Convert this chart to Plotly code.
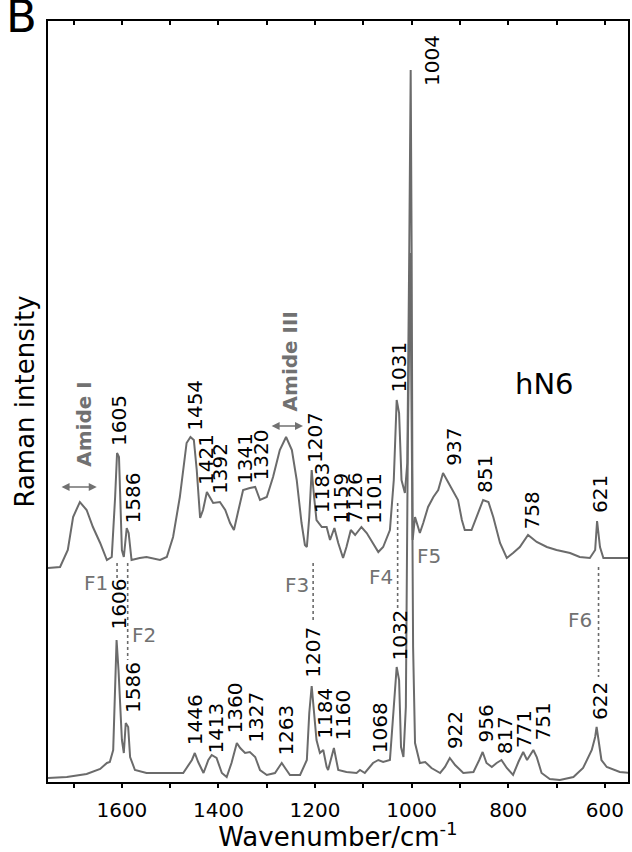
import plotly.graph_objects as go

# ---------------- data ----------------
# wavenumber (cm-1) and intensity (arbitrary units) of the upper spectrum (hN6)
wn_top = [1753,1728,1712,1701,1687,1673,1660,1645,1631,1621,
          1614,1610,1606,1600,1596,1590,1586,1580,1563,1549,
          1521,1507,1494,1480,1466,1458,1451,1445,1438,1432,
          1424,1418,1411,1397,1386,1376,1368,1360,1349,1335,
          1324,1314,1300,1287,1273,1260,1248,1238,1228,1221,
          1217,1212,1207,1202,1197,1186,1176,1169,1160,1152,
          1142,1135,1126,1117,1104,1093,1080,1069,1059,1045,
          1037,1031,1026,1021,1014,1009,1005,1002,1000,998,
          993,983,976,966,955,945,935,927,914,904,
          896,890,876,865,852,841,831,817,803,790,
          776,759,741,720,700,672,652,631,620,616,
          610,603,583,552]
int_top = [214,215,232,265,280,272,255,239,222,225,
           285,329,325,232,225,254,249,222,224,225,
           222,225,245,285,339,345,342,312,264,272,
           290,285,279,280,272,259,252,269,292,294,
           295,282,285,305,332,345,332,302,259,237,
           235,265,312,285,262,255,255,242,254,239,
           224,235,252,247,255,249,239,230,235,252,
           302,382,369,302,289,319,529,712,529,242,
           265,249,259,275,285,292,309,302,292,282,
           262,252,252,265,282,280,265,239,224,229,
           235,247,240,235,232,229,225,224,232,261,
           235,224,224,224]

# lower spectrum
wn_bot = [1753,1714,1673,1645,1631,1625,1618,1614,1611,1607,
          1604,1600,1596,1592,1587,1583,1573,1549,1507,1473,
          1455,1449,1442,1431,1421,1414,1404,1393,1383,1373,
          1362,1355,1345,1335,1324,1314,1300,1283,1276,1269,
          1262,1252,1231,1217,1212,1207,1202,1197,1190,1183,
          1176,1173,1161,1152,1135,1114,1107,1097,1080,1069,
          1059,1045,1037,1031,1026,1022,1017,1012,1008,1003,
          999,997,993,983,972,959,941,931,921,910,
          893,872,860,853,845,834,824,814,803,790,
          779,769,761,748,741,731,714,693,665,645,
          627,620,617,612,607,596,569,548]
int_bot = [4,5,8,13,19,20,32,92,142,112,
           79,42,29,59,55,25,12,9,9,9,
           22,29,20,9,22,27,24,9,5,19,
           39,34,29,30,25,12,7,9,14,19,
           14,7,7,22,69,96,69,42,29,32,
           15,12,34,12,10,9,12,9,19,22,
           20,22,75,115,102,35,25,75,332,529,
           300,135,39,19,20,14,9,15,24,17,
           9,10,22,30,19,15,19,22,14,7,
           20,30,22,32,25,9,3,2,5,14,
           32,45,55,39,22,15,10,9]

# peak labels (text, label-centre wavenumber, label-centre intensity)
top_labels = ["1605","1586","1454","1421","1392","1341","1320","1207","1183","1159",
              "7126","1101","1031","1004","937","851","758","621"]
top_label_wn = [1606,1578,1449,1426,1397,1345,1311,1200,1185,1147,
                1117,1078,1027,958,913,848,750,610]
top_label_int = [362,284,377,323,314,323,327,344,294,284,
                 284,284,415,722,335,308,272,288]

bot_labels = ["1606","1586","1446","1413","1360","1327","1263","1207","1184","1160",
              "1068","1032","922","956","817","771","751","622"]
bot_label_wn = [1605,1577,1448,1406,1365,1323,1261,1205,1180,1143,
                1065,1025,910,847,806,767,729,610]
bot_label_int = [178,94,62,54,74,65,52,130,69,67,
                 54,147,52,58,47,53,60,81]

# band markers F1..F6
f_labels = ["F1","F2","F3","F4","F5","F6"]
f_label_wn = [1654,1554,1238,1064,964,651]
f_label_int = [199,147,197,205,226,162]

# dotted guide lines: wavenumber, top intensity, bottom intensity
guide_wn = [1610,1588,1204,1029,613]
guide_top = [219,219,219,279,215]
guide_bot = [204,122,159,172,105]

# Amide regions: label, label centre, arrow ends and arrow height
amide_text = ["Amide I","Amide III"]
amide_label_wn = [1679,1251]
amide_label_int = [358,421]
amide_arrow_from = [1728,1293]
amide_arrow_to = [1652,1225]
amide_arrow_int = [295,356]

tick_vals = [1700,1600,1500,1400,1300,1200,1100,1000,900,800,700,600]
tick_text = ["" if v % 200 else str(v) for v in tick_vals]

X_RANGE = [1753, 552]
Y_RANGE = [0, 761]
FONT = "DejaVu Sans"
LINE_GREY = "#6b6b6b"
TEXT_GREY = "#717171"

fig = go.Figure()
fig.add_trace(go.Scatter(x=wn_top, y=int_top, mode="lines",
                         line=dict(color=LINE_GREY, width=2), hoverinfo="skip",
                         showlegend=False))
fig.add_trace(go.Scatter(x=wn_bot, y=int_bot, mode="lines", xaxis="x2",
                         line=dict(color=LINE_GREY, width=2), hoverinfo="skip",
                         showlegend=False))

ann = []
for t, x, y in zip(top_labels, top_label_wn, top_label_int):
    ann.append(dict(x=x, y=y, xref="x", yref="y", text=t, textangle=-90,
                    showarrow=False, xanchor="center", yanchor="middle",
                    font=dict(family=FONT, size=20, color="black")))
for t, x, y in zip(bot_labels, bot_label_wn, bot_label_int):
    ann.append(dict(x=x, y=y, xref="x", yref="y", text=t, textangle=-90,
                    showarrow=False, xanchor="center", yanchor="middle",
                    font=dict(family=FONT, size=20, color="black")))
for t, x, y in zip(f_labels, f_label_wn, f_label_int):
    ann.append(dict(x=x, y=y, xref="x", yref="y", text=t,
                    showarrow=False, xanchor="center", yanchor="middle",
                    font=dict(family=FONT, size=20, color=TEXT_GREY)))
for t, x, y in zip(amide_text, amide_label_wn, amide_label_int):
    ann.append(dict(x=x, y=y, xref="x", yref="y", text="<b>%s</b>" % t, textangle=-90,
                    showarrow=False, xanchor="center", yanchor="middle",
                    font=dict(family=FONT, size=20, color=TEXT_GREY)))
for a, b, y in zip(amide_arrow_from, amide_arrow_to, amide_arrow_int):
    ann.append(dict(x=b, y=y, ax=a, ay=y, xref="x", yref="y", axref="x", ayref="y",
                    text="", showarrow=True, arrowhead=2, startarrowhead=2,
                    arrowside="end+start", arrowsize=1, arrowwidth=1.6,
                    arrowcolor=TEXT_GREY))
ann.append(dict(x=724, y=398, xref="x", yref="y", text="hN6", showarrow=False,
                xanchor="center", yanchor="middle",
                font=dict(family=FONT, size=29, color="black")))
ann.append(dict(x=-0.0457, y=1.0055, xref="paper", yref="paper", text="B", showarrow=False,
                xanchor="center", yanchor="middle", borderpad=0,
                font=dict(family=FONT, size=45, color="black")))

shapes = []
for x, y0, y1 in zip(guide_wn, guide_top, guide_bot):
    shapes.append(dict(type="line", xref="x", yref="y", x0=x, x1=x, y0=y0, y1=y1,
                       line=dict(color=LINE_GREY, width=1.6, dash="dot")))

fig.update_layout(
    width=632, height=852,
    margin=dict(l=48, r=4, t=21, b=70, autoexpand=False),
    paper_bgcolor="white", plot_bgcolor="white",
    font=dict(family=FONT, color="black"),
    annotations=ann, shapes=shapes,
    xaxis=dict(range=X_RANGE, showgrid=False, zeroline=False, automargin=False,
               showline=True, linecolor="black", linewidth=2, mirror=True,
               ticks="outside", ticklen=4, tickwidth=1.5, tickcolor="black",
               tickvals=tick_vals, ticktext=tick_text, ticklabelstandoff=5,
               tickfont=dict(family=FONT, size=20, color="black"),
               title=dict(text="Wavenumber/cm<sup>-1</sup>", standoff=7,
                          font=dict(family=FONT, size=26, color="black"))),
    xaxis2=dict(range=X_RANGE, overlaying="x", side="top", showgrid=False,
                zeroline=False, showline=False, ticks="inside", ticklen=4,
                tickwidth=1.5, tickcolor="black", tickvals=tick_vals,
                showticklabels=False, automargin=False),
    yaxis=dict(range=Y_RANGE, showgrid=False, zeroline=False, showline=True,
               linecolor="black", linewidth=2, mirror=True, ticks="",
               showticklabels=False, automargin=False,
               title=dict(text="Raman intensity", standoff=4,
                          font=dict(family=FONT, size=26, color="black"))),
)

# remove the browser's default 8 px page margin so the figure fills the window
fig.write_html("out.html", config={"displayModeBar": False},
               post_script="document.body.style.margin='0';document.body.style.overflow='hidden';")
